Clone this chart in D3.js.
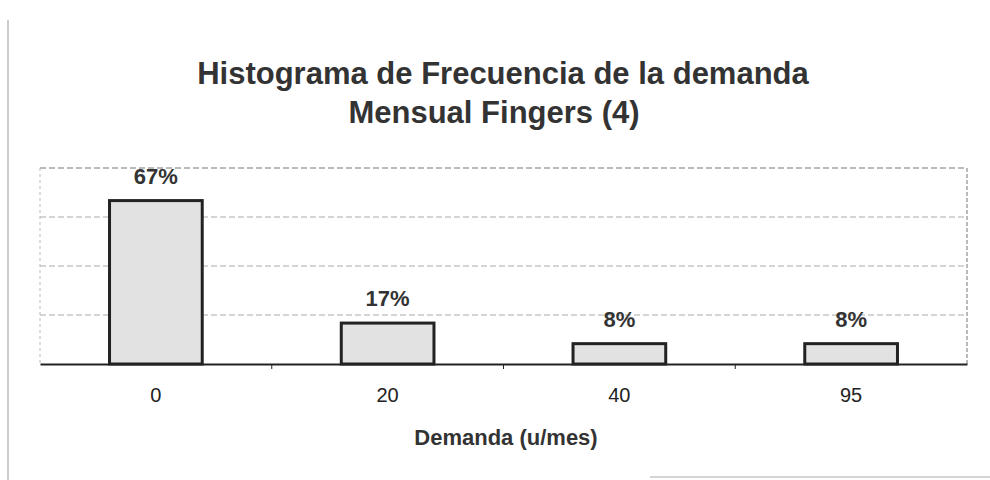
<!DOCTYPE html>
<html>
<head>
<meta charset="utf-8">
<script src="https://cdn.jsdelivr.net/npm/d3@7"></script>
<style>
  body { margin: 0; background: #fff; }
  text { font-family: "Liberation Sans", Arial, sans-serif; }
</style>
</head>
<body>
<div id="chart"></div>
<script>
const categories = ["0", "20", "40", "95"];
const values = [0.667, 0.167, 0.083, 0.083];
const labels = ["67%", "17%", "8%", "8%"];
const gridTicks = [0.2, 0.4, 0.6, 0.8];

const svg = d3.select("#chart").append("svg").attr("width", 990).attr("height", 480);

const margin = { top: 168, right: 23, bottom: 116, left: 40 };
const width = 990 - margin.left - margin.right;
const height = 480 - margin.top - margin.bottom;

// outer frame bits of the scanned page
svg.append("line").attr("x1", 8).attr("x2", 8).attr("y1", 20).attr("y2", 480).attr("stroke", "#999").attr("stroke-width", 1);
svg.append("line").attr("x1", 650).attr("x2", 990).attr("y1", 477).attr("y2", 477).attr("stroke", "#aaa").attr("stroke-width", 1);

svg.append("text").attr("x", 503).attr("y", 84).attr("text-anchor", "middle")
  .style("font-size", "31px").style("font-weight", "bold").attr("fill", "#333")
  .text("Histograma de Frecuencia de la demanda");
svg.append("text").attr("x", 494).attr("y", 123).attr("text-anchor", "middle")
  .style("font-size", "31px").style("font-weight", "bold").attr("fill", "#333")
  .text("Mensual Fingers (4)");

const x = d3.scaleBand().domain(categories).range([0, width]).paddingInner(0.6).paddingOuter(0.3);
const y = d3.scaleLinear().domain([0, 0.8]).range([height, 0]);

const g = svg.append("g").attr("transform", `translate(${margin.left},${margin.top})`);

// gridlines
g.selectAll(".grid").data(gridTicks).enter().append("line")
  .attr("class", "grid")
  .attr("x1", 0).attr("x2", width)
  .attr("y1", (d) => y(d)).attr("y2", (d) => y(d))
  .attr("stroke", (d) => (d === 0.8 ? "#777" : "#aaa"))
  .attr("stroke-width", 1)
  .attr("stroke-dasharray", "6,3");

// plot area sides
g.append("line").attr("x1", 0).attr("x2", 0).attr("y1", y(0.8)).attr("y2", height).attr("stroke", "#bbb").attr("stroke-dasharray", "3,3");
g.append("line").attr("x1", width).attr("x2", width).attr("y1", y(0.8)).attr("y2", height).attr("stroke", "#777").attr("stroke-dasharray", "4,2");

// bars
g.selectAll(".bar").data(values).enter().append("rect")
  .attr("class", "bar")
  .attr("x", (d, i) => x(categories[i]))
  .attr("y", (d) => y(d))
  .attr("width", x.bandwidth())
  .attr("height", (d) => height - y(d))
  .attr("fill", "#e2e2e2")
  .attr("stroke", "#222")
  .attr("stroke-width", 3);

// value labels
g.selectAll(".lbl").data(values).enter().append("text")
  .attr("class", "lbl")
  .attr("x", (d, i) => x(categories[i]) + x.bandwidth() / 2)
  .attr("y", (d) => y(d) - 17)
  .attr("text-anchor", "middle")
  .style("font-size", "22px").style("font-weight", "bold").attr("fill", "#333")
  .text((d, i) => labels[i]);

// x axis
const step = x.step();
const xAxis = g.append("g").attr("transform", `translate(0,${height})`)
  .call(d3.axisBottom(x).tickSize(0).tickPadding(24));
xAxis.select(".domain").attr("stroke", "#222").attr("stroke-width", 2);
xAxis.selectAll("text").style("font-size", "20px").attr("fill", "#222");
xAxis.selectAll(".sep").data(categories.slice(1)).enter().append("line")
  .attr("class", "sep")
  .attr("x1", (d) => x(d) - (step - x.bandwidth()) / 2)
  .attr("x2", (d) => x(d) - (step - x.bandwidth()) / 2)
  .attr("y1", 0).attr("y2", 5).attr("stroke", "#222");

svg.append("text").attr("x", 506).attr("y", 445).attr("text-anchor", "middle")
  .style("font-size", "22px").style("font-weight", "bold").attr("fill", "#333")
  .text("Demanda (u/mes)");
</script>
</body>
</html>
